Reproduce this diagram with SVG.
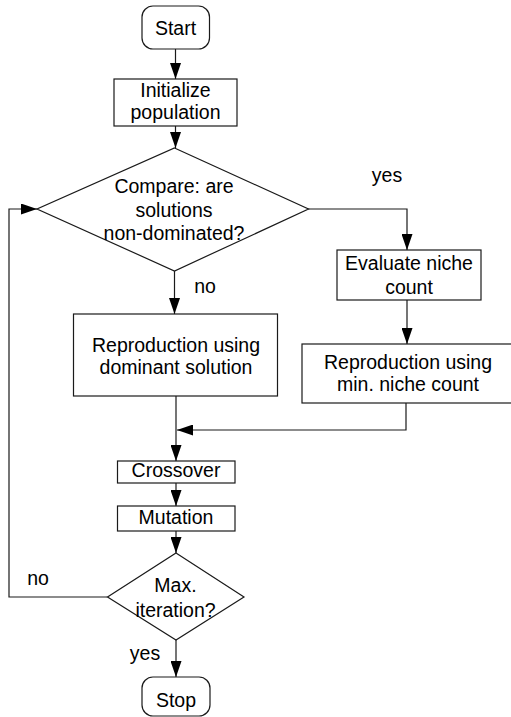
<svg xmlns="http://www.w3.org/2000/svg" width="511" height="717" viewBox="0 0 511 717">
<style>
.n{fill:#fff;stroke:#1a1a1a;stroke-width:1.2}
.t{font-family:"Liberation Sans",Arial,sans-serif;font-size:19.5px;fill:#000;text-anchor:middle}
.c{fill:none;stroke:#1a1a1a;stroke-width:1.2}
</style>
<defs>
<marker id="ah" markerUnits="userSpaceOnUse" markerWidth="16" markerHeight="11" refX="16" refY="5.5" orient="auto">
<path d="M0,0 L16,5.5 L0,11 z" fill="#000"/>
</marker>
</defs>
<rect width="511" height="717" fill="#fff"/>
<g id="connectors">
<path class="c" d="M175.5,49 V79" marker-end="url(#ah)"/>
<path class="c" d="M175.5,126 V148" marker-end="url(#ah)"/>
<path class="c" d="M308,209 H407 V250" marker-end="url(#ah)"/>
<path class="c" d="M174.5,271 V314" marker-end="url(#ah)"/>
<path class="c" d="M407,300 V344" marker-end="url(#ah)"/>
<path class="c" d="M176,396 V461" marker-end="url(#ah)"/>
<path class="c" d="M406,403 V430 H177" marker-end="url(#ah)"/>
<path class="c" d="M176,483 V506" marker-end="url(#ah)"/>
<path class="c" d="M176,531 V553" marker-end="url(#ah)"/>
<path class="c" d="M176,640 V677" marker-end="url(#ah)"/>
<path class="c" d="M107.5,597 H9 V209 H37" marker-end="url(#ah)"/>
<text class="t" x="387" y="182">yes</text>
<text class="t" x="205" y="293">no</text>
<text class="t" x="38" y="585">no</text>
<text class="t" x="145" y="660">yes</text>
</g>
<g id="start">
<rect class="n" x="142" y="6" width="67.5" height="43" rx="11"/>
<text class="t" x="175.5" y="35">Start</text>
</g>
<g id="init">
<rect class="n" x="114" y="79" width="123" height="47"/>
<text class="t" x="175.5" y="97">Initialize</text>
<text class="t" x="175.5" y="118.5">population</text>
</g>
<g id="compare">
<polygon class="n" points="174.5,148 308.5,209 174.5,271 37,209"/>
<text class="t" x="174" y="193">Compare: are</text>
<text class="t" x="174" y="216.5">solutions</text>
<text class="t" x="174" y="239.5">non-dominated?</text>
</g>
<g id="evaluate">
<rect class="n" x="337" y="250" width="144" height="50"/>
<text class="t" x="409" y="270">Evaluate niche</text>
<text class="t" x="409" y="294">count</text>
</g>
<g id="repdom">
<rect class="n" x="73.5" y="314" width="204" height="82"/>
<text class="t" x="176" y="352">Reproduction using</text>
<text class="t" x="176" y="373.5">dominant solution</text>
</g>
<g id="repmin">
<rect class="n" x="302" y="344" width="215" height="59"/>
<text class="t" x="408" y="369">Reproduction using</text>
<text class="t" x="408" y="390.5">min. niche count</text>
</g>
<g id="crossover">
<rect class="n" x="117.5" y="461" width="117.5" height="22"/>
<text class="t" x="176" y="476.5">Crossover</text>
</g>
<g id="mutation">
<rect class="n" x="117.5" y="506" width="117.5" height="25"/>
<text class="t" x="176" y="524">Mutation</text>
</g>
<g id="maxiter">
<polygon class="n" points="176,553 244,597 176,640 107.5,597"/>
<text class="t" x="175.5" y="591.5">Max.</text>
<text class="t" x="175.5" y="616.5">iteration?</text>
</g>
<g id="stop">
<rect class="n" x="142" y="677" width="68" height="39" rx="11"/>
<text class="t" x="176" y="706.5">Stop</text>
</g>
</svg>
